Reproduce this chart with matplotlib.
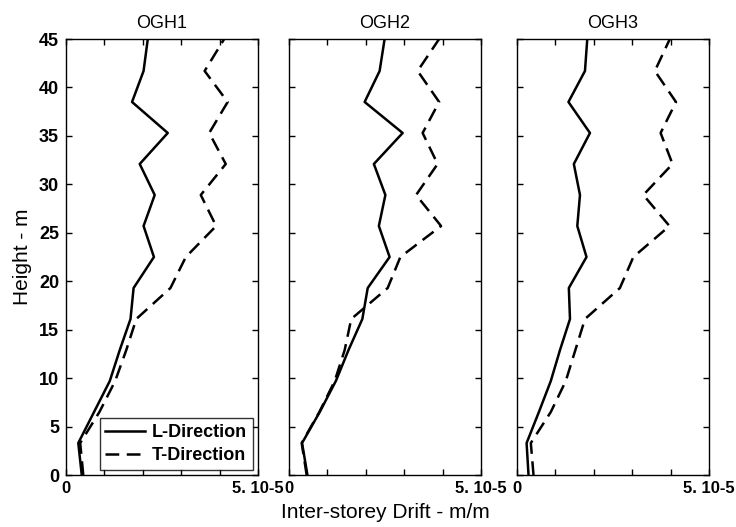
import matplotlib
matplotlib.use("Agg")
import matplotlib.pyplot as plt

# Storey levels (m)
heights = [0, 3.3, 6.5, 9.7, 12.9, 16.1, 19.3, 22.5, 25.7, 28.9, 32.1, 35.3, 38.5, 41.7, 45]

# Drift values in units of 1e-5 m/m
ogh1_L = [0.41, 0.32, 0.73, 1.14, 1.40, 1.68, 1.76, 2.29, 2.02, 2.31, 1.92, 2.65, 1.72, 2.02, 2.13]
ogh1_T = [0.45, 0.37, 0.87, 1.28, 1.57, 1.83, 2.72, 3.12, 3.91, 3.51, 4.16, 3.73, 4.21, 3.61, 4.12]
ogh2_L = [0.48, 0.34, 0.80, 1.22, 1.55, 1.91, 2.05, 2.62, 2.34, 2.51, 2.21, 2.96, 1.97, 2.36, 2.49]
ogh2_T = [0.46, 0.33, 0.79, 1.19, 1.45, 1.62, 2.57, 2.90, 3.96, 3.31, 3.87, 3.48, 3.91, 3.35, 3.91]
ogh3_L = [0.30, 0.25, 0.57, 0.88, 1.12, 1.38, 1.35, 1.81, 1.57, 1.64, 1.48, 1.90, 1.34, 1.77, 1.83]
ogh3_T = [0.43, 0.36, 0.88, 1.27, 1.52, 1.77, 2.68, 3.03, 3.97, 3.29, 4.05, 3.74, 4.14, 3.59, 3.98]

titles = ["OGH1", "OGH2", "OGH3"]
series_L = [ogh1_L, ogh2_L, ogh3_L]
series_T = [ogh1_T, ogh2_T, ogh3_T]
x_tick_labels = ["0", "", "", "", "", "5. 10-5"]
y_ticks = [0, 5, 10, 15, 20, 25, 30, 35, 40, 45]

plt.rcParams['font.family'] = ['Liberation Sans', 'DejaVu Sans']

fig = plt.figure(figsize=(7.36, 5.27), dpi=100)
W, H = 736, 527
lefts = [66, 289, 517]
aw = 192
top_px, bot_px = 39, 475

axes = []
for i in range(3):
    ax = fig.add_axes([lefts[i] / W, (H - bot_px) / H, aw / W, (bot_px - top_px) / H])
    axes.append(ax)
    ax.plot(series_L[i], heights, color='black', lw=1.8, label='L-Direction')
    ax.plot(series_T[i], heights, color='black', lw=1.8, dashes=(5.5, 3), label='T-Direction')
    ax.set_xlim(0, 5)
    ax.set_ylim(0, 45)
    ax.set_xticks([0, 1, 2, 3, 4, 5])
    ax.set_xticklabels(x_tick_labels, fontsize=12, fontweight='bold')
    ax.set_yticks(y_ticks)
    if i == 0:
        ax.set_yticklabels([str(v) for v in y_ticks], fontsize=13, fontweight='bold')
    else:
        ax.set_yticklabels([])
    ax.tick_params(direction='in', length=4, width=1, top=True, right=True)
    ax.tick_params(axis='x', pad=4)
    ax.tick_params(axis='y', pad=5)
    for s in ax.spines.values():
        s.set_linewidth(1.0)
    ax.set_title(titles[i], fontsize=13, pad=8)

axes[0].set_ylabel("Height - m", fontsize=15, labelpad=5)
fig.text((lefts[1] + aw / 2) / W, 1 - 512 / H, "Inter-storey Drift - m/m", ha='center', va='center', fontsize=15)

leg = axes[0].legend(loc='lower right', prop={'weight': 'bold', 'size': 13},
                     frameon=True, fancybox=False, edgecolor='black', handlelength=2.2,
                     borderpad=0.3, labelspacing=0.35, handletextpad=0.4,
                     borderaxespad=0.3)
leg.get_frame().set_linewidth(1.0)

fig.savefig("out.png", dpi=100)
